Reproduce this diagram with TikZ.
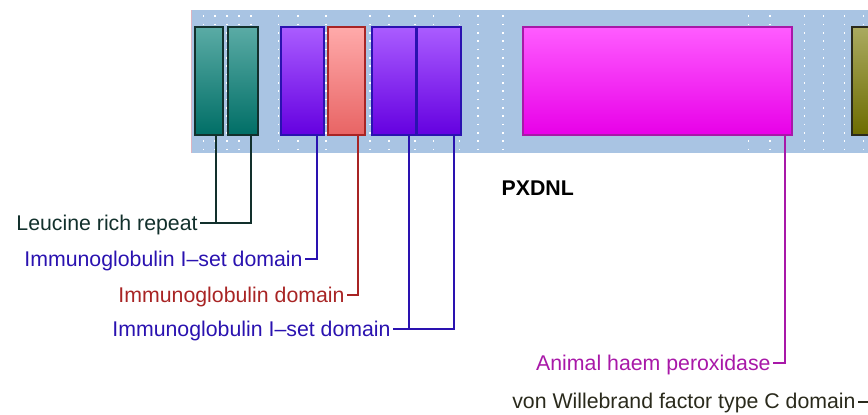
\documentclass[tikz,border=0pt]{standalone}
\usepackage{fontspec}
\setmainfont{Liberation Sans}
\usetikzlibrary{calc,positioning,fit}
\definecolor{TrackBlue}{HTML}{A9C4E3}
\definecolor{LrrTop}{HTML}{5AABA5}
\definecolor{LrrBottom}{HTML}{006E66}
\definecolor{LrrDark}{HTML}{12302C}
\definecolor{IsetTop}{HTML}{AA5CFF}
\definecolor{IsetBottom}{HTML}{6400E0}
\definecolor{IsetDark}{HTML}{2A12B0}
\definecolor{IgTop}{HTML}{FFAAAA}
\definecolor{IgBottom}{HTML}{E86464}
\definecolor{IgDark}{HTML}{A82424}
\definecolor{HaemTop}{HTML}{FF5CFF}
\definecolor{HaemBottom}{HTML}{E800E8}
\definecolor{HaemDark}{HTML}{A818A8}
\definecolor{VwcTop}{HTML}{AAAA60}
\definecolor{VwcBottom}{HTML}{6C6C00}
\definecolor{VwcDark}{HTML}{2A2A1C}
\tikzset{
  domainbox/.style={
    draw=#1Dark,
    top color=#1Top,
    bottom color=#1Bottom,
    line width=1pt,
    inner sep=0pt
  },
  domainlabel/.style={
    text=#1Dark,
    font=\fontsize{10.65}{12}\selectfont,
    anchor=east,
    inner xsep=1pt,
    inner ysep=0pt,
    text height=8pt,
    text depth=1pt
  },
  domainlink/.style={draw=#1Dark, line width=1pt},
  gridline/.style={white, line width=0.8pt, dash pattern=on 0.8pt off 3.37pt}
}

\begin{document}
\begin{tikzpicture}[x=0.5pt,y=-0.5pt]
  \useasboundingbox (0,0) rectangle (868,414);
  \clip (0,0) rectangle (868,414);
  \fill[TrackBlue] (191,10) rectangle (900,153);
  \draw[IgTop!60!TrackBlue, line width=0.5pt] (191.5,10) -- (191.5,153);
  \foreach \gx in {203.3,215,226.7,239,250.7,278.3,297.7,325.7,369.7,389,415,433.3,459.3,477.7,502.7,748.3,770,804.3,823.3,844.3,863.3}
    \draw[gridline] (\gx,15.25) -- (\gx,153);

  \node[domainbox=Lrr, fit={(194.7,27.3) (222.7,135)}] (lrr1) {};
  \node[domainbox=Lrr, fit={(227.7,27.3) (257.7,135)}] (lrr2) {};
  \node[domainbox=Iset, fit={(281.3,27.3) (323.7,135)}] (iset1) {};
  \node[domainbox=Ig, fit={(328,27.3) (365.3,135)}] (ig1) {};
  \node[domainbox=Iset, fit={(372.3,27.3) (415.7,135)}] (iset2) {};
  \node[domainbox=Iset, fit={(417.3,27.3) (460.7,135)}] (iset3) {};
  \node[domainbox=Haem, fit={(522.7,27.3) (792,135)}] (haem1) {};
  \node[domainbox=Vwc, fit={(852,27.3) (900,135)}] (vwc1) {};

  \node[domainlabel=Lrr, font=\fontsize{10.65}{12}\selectfont\bfseries, text=black, anchor=center] (protname) at (537.7,188.4) {PXDNL};

  \node[domainlabel=Lrr] (lablrr) at (200,223.3) {Leucine rich repeat};
  \node[domainlabel=Iset] (labiset1) at (305,259.3) {Immunoglobulin I--set domain};
  \node[domainlabel=Ig] (labig) at (347,295) {Immunoglobulin domain};
  \node[domainlabel=Iset] (labiset2) at (393,329.3) {Immunoglobulin I--set domain};
  \node[domainlabel=Haem] (labhaem) at (773,363.3) {Animal haem peroxidase};
  \node[domainlabel=Vwc] (labvwc) at (858,401.7) {von Willebrand factor type C domain};

  \draw[domainlink=Lrr] ([xshift=-4pt]lrr1.south east) |- (lablrr.east);
  \draw[domainlink=Lrr] ([xshift=-4pt]lrr2.south east) |- (lablrr.east);
  \draw[domainlink=Iset] ([xshift=-4pt]iset1.south east) |- (labiset1.east);
  \draw[domainlink=Ig] ([xshift=-4pt]ig1.south east) |- (labig.east);
  \draw[domainlink=Iset] ([xshift=-4pt]iset2.south east) |- (labiset2.east);
  \draw[domainlink=Iset] ([xshift=-4pt]iset3.south east) |- (labiset2.east);
  \draw[domainlink=Haem] ([xshift=-4pt]haem1.south east) |- (labhaem.east);
  \draw[domainlink=Vwc] ([xshift=-4pt]vwc1.south east) |- (labvwc.east);
\end{tikzpicture}
\end{document}
